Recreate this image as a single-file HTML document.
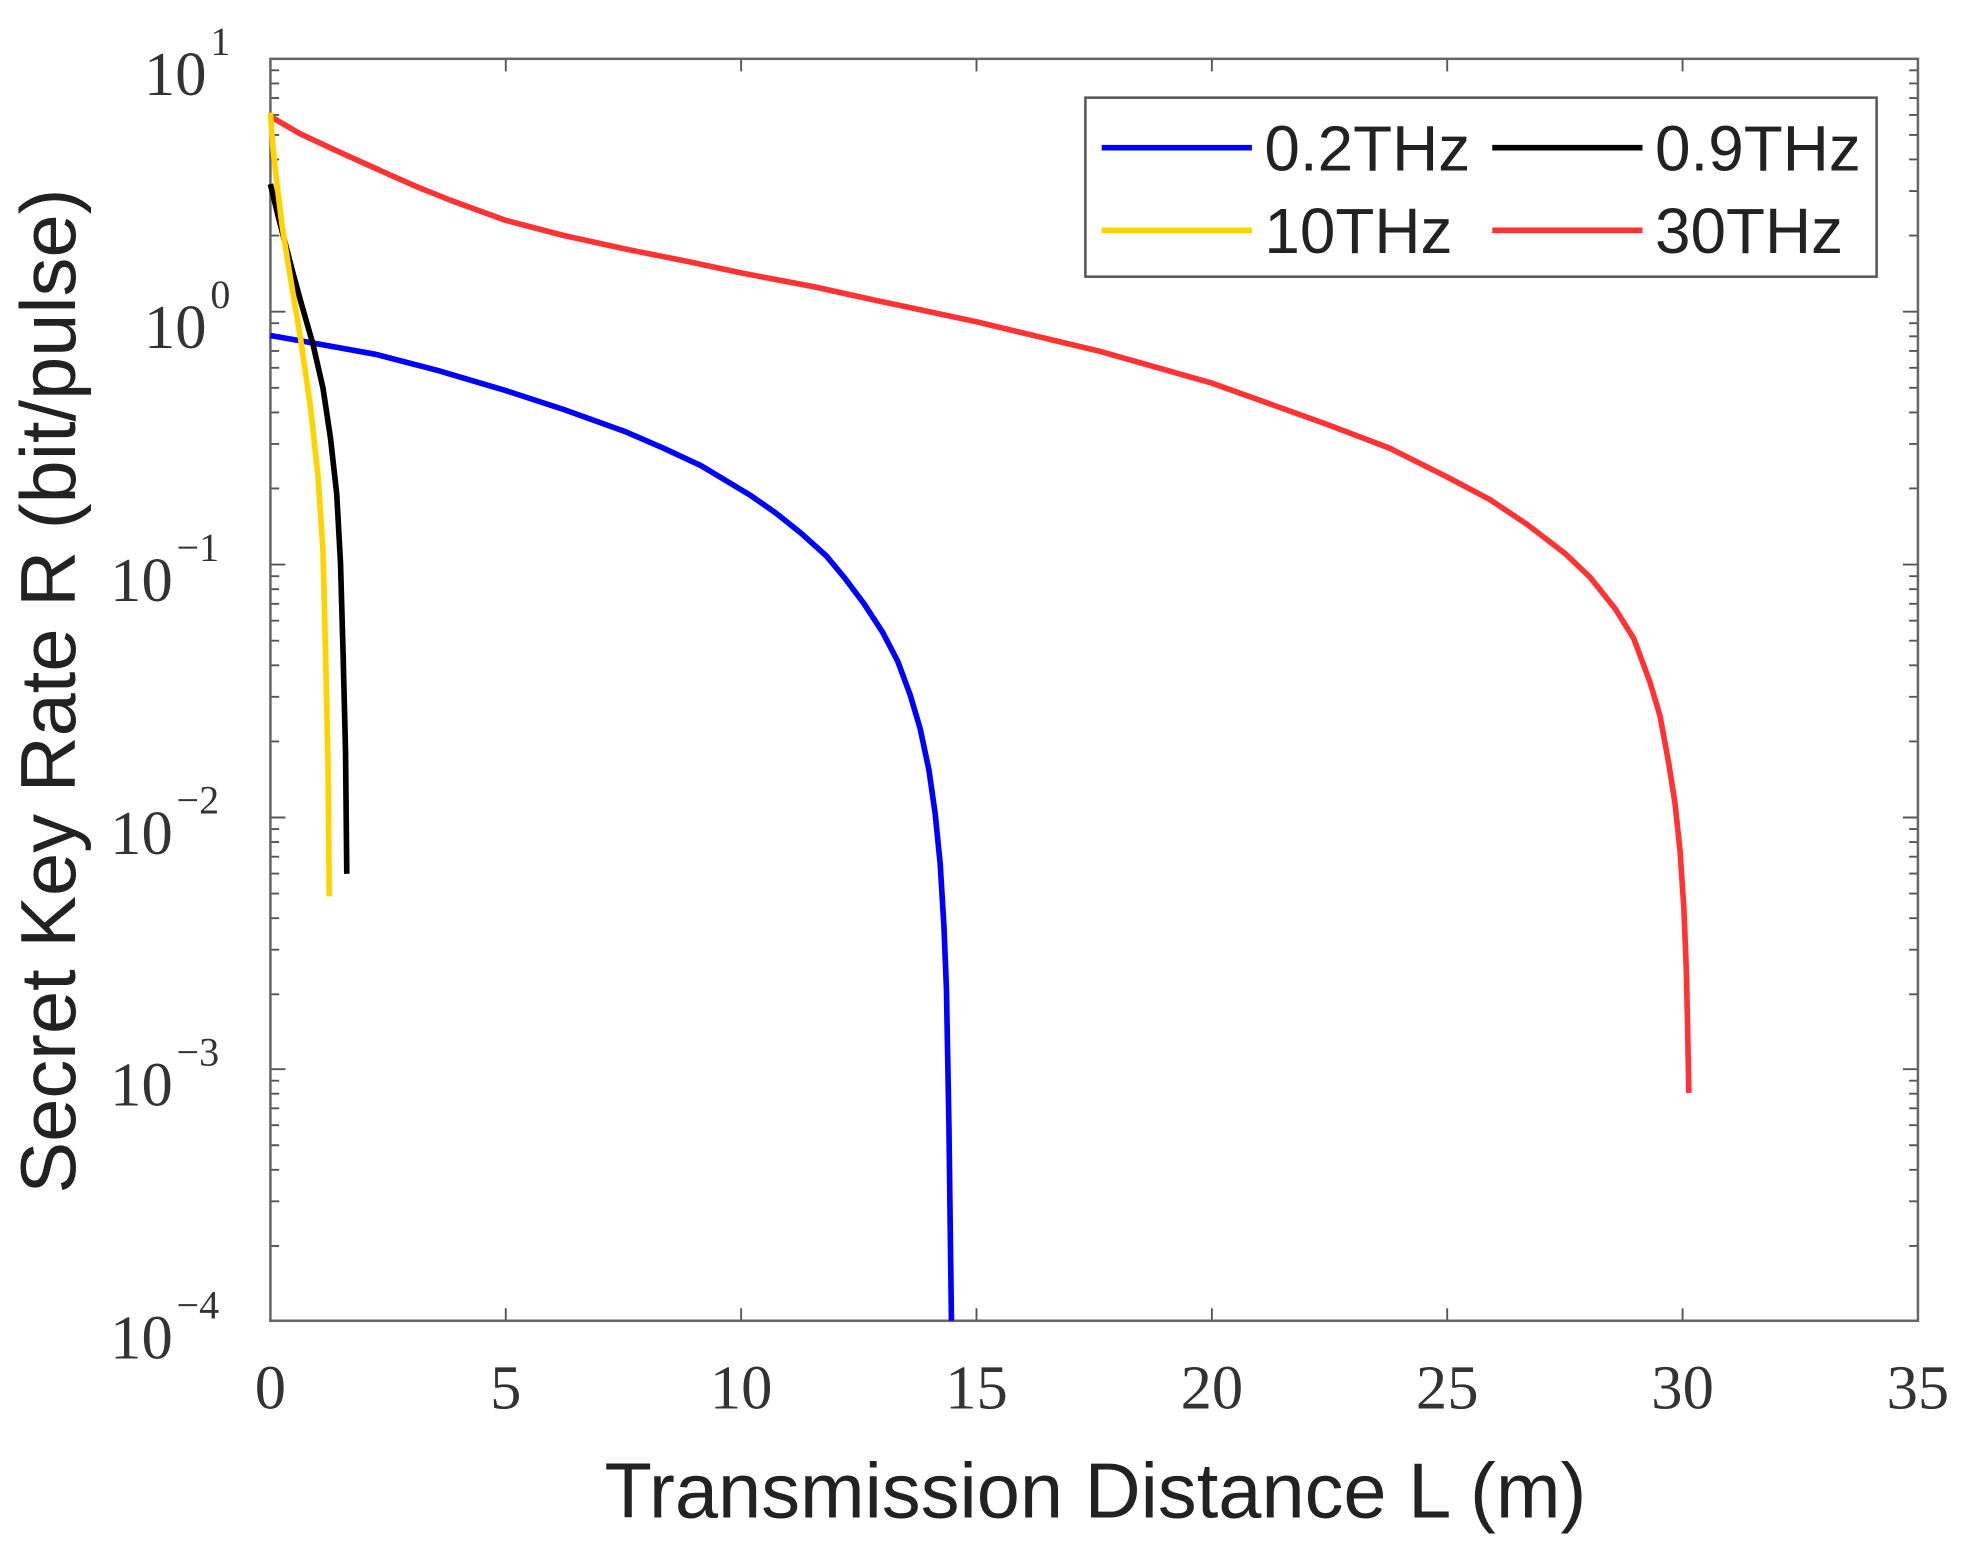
<!DOCTYPE html>
<html><head><style>html,body{margin:0;padding:0;background:#fff}svg{display:block}</style></head>
<body>
<svg width="1963" height="1554" viewBox="0 0 1568 1241.3" preserveAspectRatio="none" xmlns="http://www.w3.org/2000/svg">
<rect width="1568" height="1241.3" fill="#fff"/>
<g stroke="#555" stroke-width="1.5" fill="none">
<path d="M404,1055v-10M592,1055v-10M780,1055v-10M968,1055v-10M1156,1055v-10M1344,1055v-10M404,47v10M592,47v10M780,47v10M968,47v10M1156,47v10M1344,47v10"/>
<path d="M216,249h12M216,451h12M216,653h12M216,854h12M1532,249h-12M1532,451h-12M1532,653h-12M1532,854h-12"/>
<g id="mt"><path d="M216,188.2h7M216,152.6h7M216,127.4h7M216,107.8h7M216,91.8h7M216,78.3h7M216,66.6h7M216,56.2h7
M216,390.2h7M216,354.6h7M216,329.4h7M216,309.8h7M216,293.8h7M216,280.3h7M216,268.6h7M216,258.2h7
M216,592.2h7M216,556.6h7M216,531.4h7M216,511.8h7M216,495.8h7M216,482.3h7M216,470.6h7M216,460.2h7
M216,794.2h7M216,758.6h7M216,733.4h7M216,713.8h7M216,697.8h7M216,684.3h7M216,672.6h7M216,662.2h7
M216,995.2h7M216,959.6h7M216,934.4h7M216,914.8h7M216,898.8h7M216,885.3h7M216,873.6h7M216,863.2h7"/></g>
<use href="#mt" transform="translate(1748,0) scale(-1,1)"/>
</g>
<rect x="216" y="47" width="1316" height="1008" fill="none" stroke="#666" stroke-width="2"/>
<g fill="none" stroke-width="4.5" stroke-linejoin="round">
<polyline stroke="#0000ff" points="216,268 250,274 300,283 350,296 404,312 450,327 500,345 530,358 560,372 600,396 620,410 640,426 660,444 675,462 690,482 705,505 717,528 727,555 735,582 742,615 747,650 751,690 754,740 756,790 757,845 758,900 759,980 760,1055"/>
<polyline stroke="#ff3333" points="216,93 228,100 240,107 255,114 270,121 290,130 310,139 335,150 360,160 404,176 450,188 500,199 550,209 592,218 650,229 700,240 780,257 880,281 968,306 1060,339 1110,358 1156,381 1190,399 1220,419 1250,442 1270,461 1290,486 1305,510 1318,545 1326,572 1333,610 1338,642 1342,680 1345,725 1347,775 1348,820 1349,873"/>
<polyline stroke="#000" points="216,147 222,172 228,195 234,218 240,240 250,275 258,310 264,350 269,395 272,450 274,520 276,600 277,698"/>
<polyline stroke="#ffd200" points="216,90 218,118 221,145 225,178 230,210 235,240 240,270 248,325 254,380 258,440 260,520 262,610 263,716"/>
</g>
<g font-family="Liberation Serif, serif" font-size="50" fill="#333" text-anchor="middle">
<text x="216" y="1125">0</text><text x="404" y="1125">5</text><text x="592" y="1125">10</text><text x="780" y="1125">15</text><text x="968" y="1125">20</text><text x="1156" y="1125">25</text><text x="1344" y="1125">30</text><text x="1532" y="1125">35</text>
</g>
<g font-family="Liberation Serif, serif" font-size="50" fill="#333" text-anchor="end">
<text x="165" y="76">10</text><text x="168" y="44" text-anchor="start" font-size="32">1</text>
<text x="165" y="278">10</text><text x="168" y="246" text-anchor="start" font-size="32">0</text>
<text x="138" y="480">10</text><text x="141" y="448" text-anchor="start" font-size="32">−1</text>
<text x="138" y="682">10</text><text x="141" y="650" text-anchor="start" font-size="32">−2</text>
<text x="138" y="883">10</text><text x="141" y="851" text-anchor="start" font-size="32">−3</text>
<text x="138" y="1085">10</text><text x="141" y="1053" text-anchor="start" font-size="32">−4</text>
</g>
<text x="875" y="1212" font-family="Liberation Sans, sans-serif" font-size="62" fill="#222" text-anchor="middle">Transmission Distance L (m)</text>
<text transform="translate(60,552) rotate(-90)" font-family="Liberation Sans, sans-serif" font-size="62" fill="#222" text-anchor="middle">Secret Key Rate R (bit/pulse)</text>
<rect x="867" y="78" width="632" height="143" fill="#fff" stroke="#555" stroke-width="2"/>
<g stroke-width="4.5">
<line x1="880" y1="118" x2="1000" y2="118" stroke="#0000ff"/>
<line x1="1192" y1="118" x2="1312" y2="118" stroke="#000"/>
<line x1="880" y1="184" x2="1000" y2="184" stroke="#ffd200"/>
<line x1="1192" y1="184" x2="1312" y2="184" stroke="#ff3333"/>
</g>
<g font-family="Liberation Sans, sans-serif" font-size="51" fill="#222">
<text x="1010" y="136">0.2THz</text><text x="1322" y="136">0.9THz</text>
<text x="1010" y="202">10THz</text><text x="1322" y="202">30THz</text>
</g>
</svg>
</body></html>
